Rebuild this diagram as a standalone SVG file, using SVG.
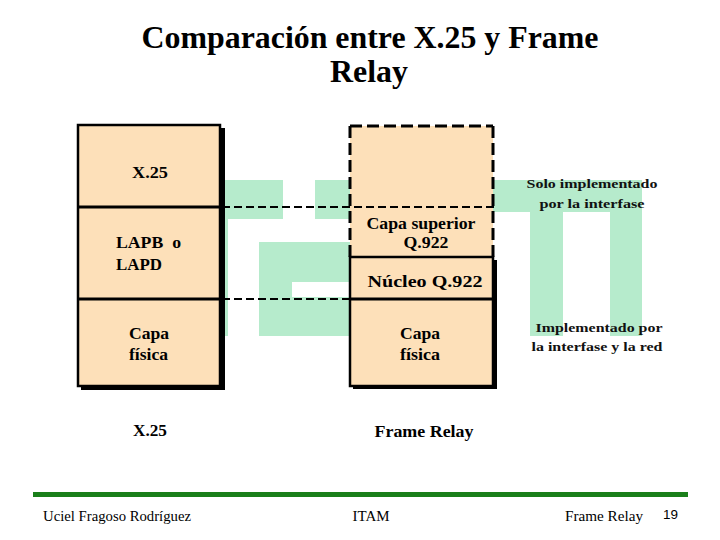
<svg xmlns="http://www.w3.org/2000/svg" width="720" height="540" viewBox="0 0 720 540">
<style>
text{font-family:"Liberation Serif","Times New Roman","DejaVu Serif","Noto Serif",serif}
.bg{fill:#b6ebcc}
.box{fill:#fde0b9;stroke:#000;stroke-width:2.5}
.sh{fill:#000}
.lbl{font-weight:bold;font-size:16px;fill:#000}
.ann{font-weight:bold;font-size:13.5px;fill:#111}
.ft{font-size:14px;fill:#000}
.dash{stroke:#000;stroke-width:2;stroke-dasharray:8 4;fill:none}
.dashb{stroke:#000;stroke-width:3;stroke-dasharray:12 5;fill:none}
</style>
<rect width="720" height="540" fill="#fff"/>
<g id="logo">
<rect class="bg" x="222" y="180" width="61" height="39"/>
<rect class="bg" x="222" y="219" width="6" height="117"/>
<rect class="bg" x="315" y="180" width="35" height="39"/>
<rect class="bg" x="259" y="242" width="91" height="94"/>
<rect fill="#fff" x="292" y="282" width="58" height="15"/>
<rect class="bg" x="493" y="180" width="149" height="32"/>
<rect class="bg" x="530" y="212" width="33" height="124"/>
<rect class="bg" x="610" y="212" width="32" height="124"/>
</g>
<text x="370" y="48" text-anchor="middle" font-weight="bold" font-size="32" textLength="457" lengthAdjust="spacingAndGlyphs">Comparación entre X.25 y Frame</text>
<text x="369" y="82" text-anchor="middle" font-weight="bold" font-size="32" textLength="78" lengthAdjust="spacingAndGlyphs">Relay</text>
<g id="x25-stack">
<rect class="sh" x="81" y="128" width="144" height="262"/>
<rect class="box" x="78" y="125" width="142" height="261"/>
<line x1="78" y1="207" x2="220" y2="207" stroke="#000" stroke-width="3"/>
<line x1="78" y1="299" x2="220" y2="299" stroke="#000" stroke-width="3"/>
</g>
<g id="x25-layer3"><text class="lbl" x="150" y="178" text-anchor="middle" textLength="36" lengthAdjust="spacingAndGlyphs">X.25</text></g>
<g id="x25-layer2"><text class="lbl" x="116" y="248" textLength="65" lengthAdjust="spacingAndGlyphs" xml:space="preserve">LAPB  o</text><text class="lbl" x="116" y="270" textLength="46" lengthAdjust="spacingAndGlyphs">LAPD</text></g>
<g id="x25-layer1"><text class="lbl" x="129" y="339" textLength="40" lengthAdjust="spacingAndGlyphs">Capa</text><text class="lbl" x="129" y="360" textLength="39" lengthAdjust="spacingAndGlyphs">física</text></g>
<g id="fr-upper">
<rect x="350" y="126" width="143" height="131" fill="#fde0b9"/>
<path class="dashb" d="M350,126 H493 M350,126 V257 M493,126 V257"/>
<text class="lbl" x="421" y="229" text-anchor="middle" font-size="15" textLength="109" lengthAdjust="spacingAndGlyphs">Capa superior</text>
<text class="lbl" x="426" y="248" text-anchor="middle" font-size="15" textLength="45" lengthAdjust="spacingAndGlyphs">Q.922</text>
</g>
<g id="fr-stack">
<rect class="sh" x="353" y="260" width="144" height="129"/>
<rect class="box" x="350" y="257" width="143" height="129"/>
<line x1="350" y1="299" x2="493" y2="299" stroke="#000" stroke-width="3"/>
</g>
<g id="fr-core"><text class="lbl" x="425" y="287" text-anchor="middle" font-size="17" textLength="115" lengthAdjust="spacingAndGlyphs">Núcleo Q.922</text></g>
<g id="fr-phys"><text class="lbl" x="420" y="339" text-anchor="middle" textLength="40" lengthAdjust="spacingAndGlyphs">Capa</text><text class="lbl" x="420" y="360" text-anchor="middle" textLength="40" lengthAdjust="spacingAndGlyphs">física</text></g>
<g id="connectors">
<line class="dash" x1="222" y1="207" x2="497" y2="207"/>
<line class="dash" x1="222" y1="299" x2="350" y2="299"/>
</g>
<g id="annotations">
<text class="ann" x="592" y="188" text-anchor="middle" textLength="131" lengthAdjust="spacingAndGlyphs">Solo implementado</text>
<text class="ann" x="592" y="208" text-anchor="middle" textLength="105" lengthAdjust="spacingAndGlyphs">por la interfase</text>
<text class="ann" x="599" y="332" text-anchor="middle" textLength="127" lengthAdjust="spacingAndGlyphs">Implementado por</text>
<text class="ann" x="597" y="351" text-anchor="middle" textLength="131" lengthAdjust="spacingAndGlyphs">la interfase y la red</text>
</g>
<text class="lbl" x="150" y="436" text-anchor="middle" textLength="34" lengthAdjust="spacingAndGlyphs">X.25</text>
<text class="lbl" x="424" y="437" text-anchor="middle" textLength="99" lengthAdjust="spacingAndGlyphs">Frame Relay</text>
<rect x="33" y="492" width="655" height="5" fill="#1a7f1a"/>
<text class="ft" x="43" y="521" textLength="148" lengthAdjust="spacingAndGlyphs">Uciel Fragoso Rodríguez</text>
<text class="ft" x="371" y="521" text-anchor="middle" textLength="37" lengthAdjust="spacingAndGlyphs">ITAM</text>
<text class="ft" x="565" y="521" textLength="78" lengthAdjust="spacingAndGlyphs">Frame Relay</text>
<text x="663" y="519" style="font-family:'Liberation Sans',Arial,sans-serif" font-size="13" textLength="15" lengthAdjust="spacingAndGlyphs">19</text>
</svg>
